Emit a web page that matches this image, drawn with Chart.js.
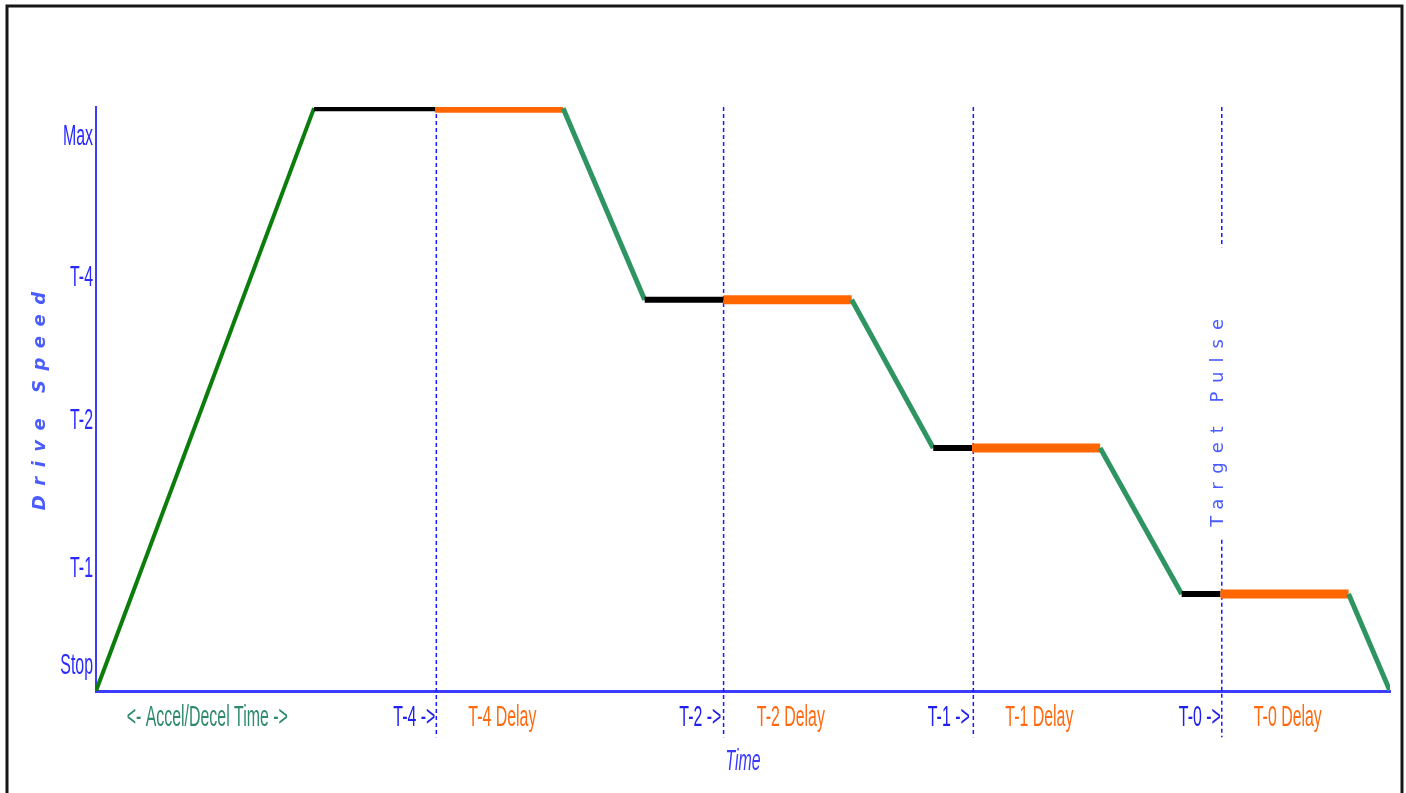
<!DOCTYPE html>
<html>
<head>
<meta charset="utf-8">
<title>Drive Speed Profile</title>
<script src="https://cdn.jsdelivr.net/npm/chart.js@4.4.1/dist/chart.umd.min.js"></script>
<style>
  html, body { margin: 0; padding: 0; background: #fff; }
  canvas { display: block; }
</style>
</head>
<body>
<canvas id="speedChart" width="1406" height="793"></canvas>
<script>
// corners of the speed profile: time (0..100) and speed (0..100 = max)
const profileTimes  = [0, 16.85, 26.2, 36.1, 42.4, 48.5, 58.4, 64.7, 67.7, 77.6, 83.9, 86.9, 96.8, 100];
const profileSpeeds = [0, 99.8, 99.8, 99.8, 67, 67, 67, 41.6, 41.6, 41.6, 16.6, 16.6, 16.6, 0];
// what each piece between two corners is
const segmentKinds = ['accel', 'hold', 'delay', 'decel', 'hold', 'delay', 'decel',
                      'hold', 'delay', 'decel', 'hold', 'delay', 'decel'];

// target pulses (dotted verticals)
const pulseTimes = [26.3, 48.5, 67.8, 87.0];
const pulseTop = 100;
const pulseBottom = -7.9;
// the last one is broken around the "Target Pulse" note
const gapFrom = 76;
const gapTo = 25.9;

const yTickValues = [4.25, 20.9, 46.25, 70.85, 94.85];
const yTickLabels = ['Stop', 'T-1', 'T-2', 'T-4', 'Max'];

const xTickValues = [8.6, 24.6, 31.4, 46.7, 53.7, 65.9, 72.9, 85.3, 92.1];
const xTickLabels = ['<- Accel/Decel Time ->', 'T-4 ->', 'T-4 Delay', 'T-2 ->', 'T-2 Delay',
                     'T-1 ->', 'T-1 Delay', 'T-0 ->', 'T-0 Delay'];

const labelFont = "'Liberation Sans', Arial, sans-serif";
const kindColor = { accel: '#0b7d0b', decel: '#2e9462', hold: '#000000', delay: '#ff6600' };
const kindWidth = { accel: 4, decel: 5, hold: 6, delay: 9 };
const rawFill = CanvasRenderingContext2D.prototype.fillText;

function labelColor(label) {
	if (label.indexOf('Delay') >= 0) return '#ff6a10';
	if (label.indexOf('<-') === 0) return '#2e8b6a';
	return '#2020ee';
}

const profileData = profileTimes.map((t, i) => ({ x: t, y: profileSpeeds[i] }));

const pulseSets = pulseTimes.map((t, i) => {
	let pts = [{ x: t, y: pulseTop }, { x: t, y: pulseBottom }];
	if (i === pulseTimes.length - 1) {
		pts = [{ x: t, y: pulseTop }, { x: t, y: gapFrom }, { x: t, y: null },
		       { x: t, y: gapTo }, { x: t, y: pulseBottom }];
	}
	return {
		data: pts,
		borderColor: '#1a1aff',
		borderWidth: 1.5,
		borderDash: [4, 3],
		pointRadius: 0,
		spanGaps: false,
		clip: false
	};
});

function drawSpaced(ctx, text, x, y, font, color, spacing) {
	ctx.save();
	ctx.translate(x, y);
	ctx.rotate(-Math.PI / 2);
	ctx.font = font;
	ctx.fillStyle = color;
	ctx.textAlign = 'center';
	ctx.textBaseline = 'middle';
	ctx.letterSpacing = spacing + 'px';
	rawFill.call(ctx, text, spacing / 2, 0);
	ctx.restore();
}

const notes = {
	id: 'notes',
	beforeDraw(chart) {
		const ctx = chart.ctx;
		ctx.save();
		ctx.fillStyle = '#fff';
		ctx.fillRect(0, 0, chart.width, chart.height);
		// page frame, open at the bottom
		ctx.strokeStyle = '#161616';
		ctx.lineWidth = 3;
		ctx.beginPath();
		ctx.moveTo(7, chart.height);
		ctx.lineTo(7, 6);
		ctx.lineTo(1402, 6);
		ctx.lineTo(1402, chart.height);
		ctx.stroke();
		ctx.restore();
		// the original labels are a tall, narrow face: squeeze text sideways
		ctx.fillText = function (text, x, y) {
			this.save();
			this.translate(x, y);
			this.scale(0.53, 1);
			rawFill.call(this, text, 0, 0);
			this.restore();
		};
	},
	afterDraw(chart) {
		const ctx = chart.ctx;
		delete ctx.fillText;
		const x = chart.scales.x, y = chart.scales.y;
		drawSpaced(ctx, 'Drive Speed', 40, 401,
			"italic bold 18px 'DejaVu Sans'", '#4a5cff', 9.5);
		drawSpaced(ctx, 'Target Pulse', x.getPixelForValue(pulseTimes[3]) - 3,
			y.getPixelForValue(45.9), "18px 'DejaVu Sans'", '#4a5cff', 9);
	}
};

new Chart(document.getElementById('speedChart'), {
	type: 'line',
	data: {
		datasets: [{
			data: profileData,
			borderColor: '#000',
			borderWidth: 5,
			borderCapStyle: 'butt',
			pointRadius: 0,
			tension: 0,
			segment: {
				borderColor: c => kindColor[segmentKinds[c.p0DataIndex]],
				borderWidth: c => kindWidth[segmentKinds[c.p0DataIndex]]
			}
		}].concat(pulseSets)
	},
	options: {
		responsive: false,
		animation: false,
		layout: { padding: { top: 107, right: 16, left: 0, bottom: 0 } },
		plugins: { legend: { display: false }, tooltip: { enabled: false } },
		scales: {
			x: {
				type: 'linear',
				min: 0,
				max: 100,
				grid: { display: false, drawTicks: false },
				border: { color: '#3c3cff', width: 3 },
				afterBuildTicks: s => { s.ticks = xTickValues.map(v => ({ value: v })); },
				afterFit: s => { s.height = 102; s.paddingLeft = 0; s.paddingRight = 0; },
				ticks: {
					autoSkip: false,
					maxRotation: 0,
					padding: 9,
					font: { family: labelFont, size: 30 },
					color: c => labelColor(xTickLabels[c.index] || ''),
					callback: (v, i) => xTickLabels[i]
				},
				title: {
					display: true,
					text: 'Time',
					color: '#3a3aff',
					font: { family: labelFont, size: 30, style: 'italic' },
					padding: { top: 0, bottom: 13 }
				}
			},
			y: {
				min: 0,
				max: 100,
				grid: { display: false, drawTicks: false },
				border: { color: '#3c3cff', width: 2 },
				afterBuildTicks: s => { s.ticks = yTickValues.map(v => ({ value: v })); },
				afterFit: s => { s.width = 96; s.paddingTop = 0; s.paddingBottom = 0; },
				ticks: {
					padding: 3,
					color: '#2a2aff',
					font: { family: labelFont, size: 30 },
					callback: (v, i) => yTickLabels[i]
				}
			}
		}
	},
	plugins: [notes]
});
</script>
</body>
</html>
